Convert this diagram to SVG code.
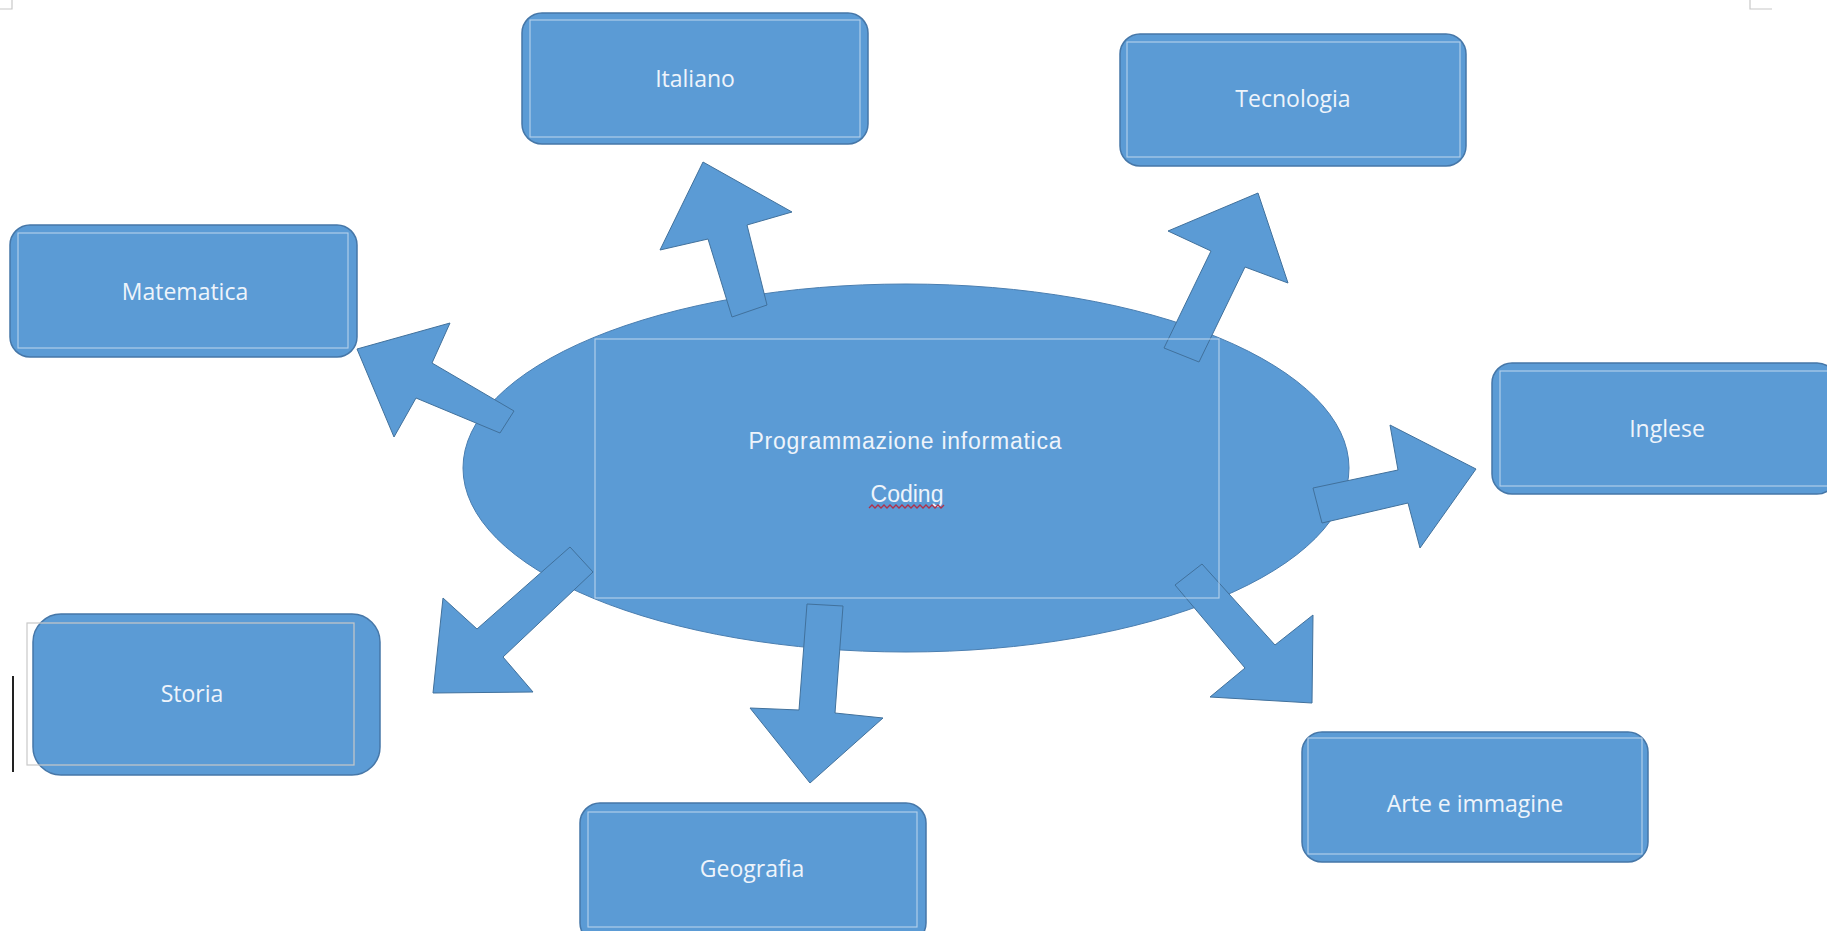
<svg xmlns="http://www.w3.org/2000/svg" width="1827" height="931" viewBox="0 0 1827 931">
<style>
.box{fill:#5b9bd5;stroke:#4677a8;stroke-width:1.5}
.tb{fill:none;stroke:#d6e4f4;stroke-width:1.1;opacity:0.75}
.arr{fill:#5b9bd5;stroke:#41719c;stroke-width:1;stroke-linejoin:miter}
.lbl{font-family:"Open Sans","DejaVu Sans",sans-serif;font-size:23px;fill:#eef4fb;text-anchor:middle}
.ctr{font-family:"Liberation Sans",Arial,sans-serif;font-size:23px;fill:#eef4fb;text-anchor:middle}
.mark{fill:none;stroke:#c8c8c8;stroke-width:1.2}
</style>
<rect width="1827" height="931" fill="#ffffff"/>
<path class="mark" d="M0 9 H12 V0"/>
<path class="mark" d="M1772 9 H1750 V0"/>

<g id="center">
<ellipse cx="906" cy="468" rx="443" ry="184" fill="#5b9bd5" stroke="#4a7eb0" stroke-width="1"/>
</g>

<g id="connectors">
<polygon class="arr" points="732,317 708,239 660,250 703,162 792,212 747,225 767,305"/>
<polygon class="arr" points="514,411 432,363 450,323 357,349 394,437 416,398 500,433"/>
<polygon class="arr" points="1164,348 1211,251 1168,231 1258,193 1288,283 1245,267 1199,362"/>
<polygon class="arr" points="1313,488 1398,470 1390,425 1476,469 1420,548 1408,503 1322,523"/>
<polygon class="arr" points="570,547 477,629 443,598 433,693 533,692 503,657 593,572"/>
<polygon class="arr" points="807,604 799,710 750,708 810,783 883,718 835,713 843,606"/>
<polygon class="arr" points="1175,585 1245,668 1210,697 1312,703 1313,615 1275,645 1202,564"/>
</g>

<g id="center-text">
<rect class="tb" x="595" y="339" width="624" height="259"/>
<text class="ctr" x="905" y="449" textLength="313" lengthAdjust="spacing">Programmazione informatica</text>
<text class="ctr" x="907" y="502">Coding</text>
<path d="M869 508 l3 -3 l3 3 l3 -3 l3 3 l3 -3 l3 3 l3 -3 l3 3 l3 -3 l3 3 l3 -3 l3 3 l3 -3 l3 3 l3 -3 l3 3 l3 -3 l3 3 l3 -3 l3 3 l3 -3 l3 3 l3 -3 l3 3 l3 -3" fill="none" stroke="#b0304a" stroke-width="1.3"/>
</g>

<g id="italiano">
<rect class="box" x="522" y="13" width="346" height="131" rx="20"/>
<rect class="tb" x="530" y="20" width="330" height="117"/>
<text class="lbl" x="695" y="87">Italiano</text>
</g>

<g id="matematica">
<rect class="box" x="10" y="225" width="347" height="132" rx="20"/>
<rect class="tb" x="18" y="233" width="330" height="115"/>
<text class="lbl" x="185" y="300">Matematica</text>
</g>

<g id="tecnologia">
<rect class="box" x="1120" y="34" width="346" height="132" rx="20"/>
<rect class="tb" x="1127" y="42" width="333" height="115"/>
<text class="lbl" x="1293" y="107">Tecnologia</text>
</g>

<g id="inglese">
<rect class="box" x="1492" y="363" width="345" height="131" rx="20"/>
<rect class="tb" x="1500" y="371" width="340" height="115"/>
<text class="lbl" x="1667" y="437">Inglese</text>
</g>

<g id="storia">
<rect class="box" x="33" y="614" width="347" height="161" rx="28"/>
<rect x="27" y="623" width="327" height="142" fill="none" stroke="#c9c9c9" stroke-width="1.2"/>
<text class="lbl" x="192" y="702">Storia</text>
<line x1="13" y1="676" x2="13" y2="772" stroke="#222222" stroke-width="2"/>
</g>

<g id="geografia">
<rect class="box" x="580" y="803" width="346" height="140" rx="20"/>
<rect class="tb" x="588" y="812" width="329" height="115"/>
<text class="lbl" x="752" y="877">Geografia</text>
</g>

<g id="arte">
<rect class="box" x="1302" y="732" width="346" height="130" rx="20"/>
<rect class="tb" x="1308" y="738" width="334" height="116"/>
<text class="lbl" x="1475" y="812">Arte e immagine</text>
</g>
</svg>
